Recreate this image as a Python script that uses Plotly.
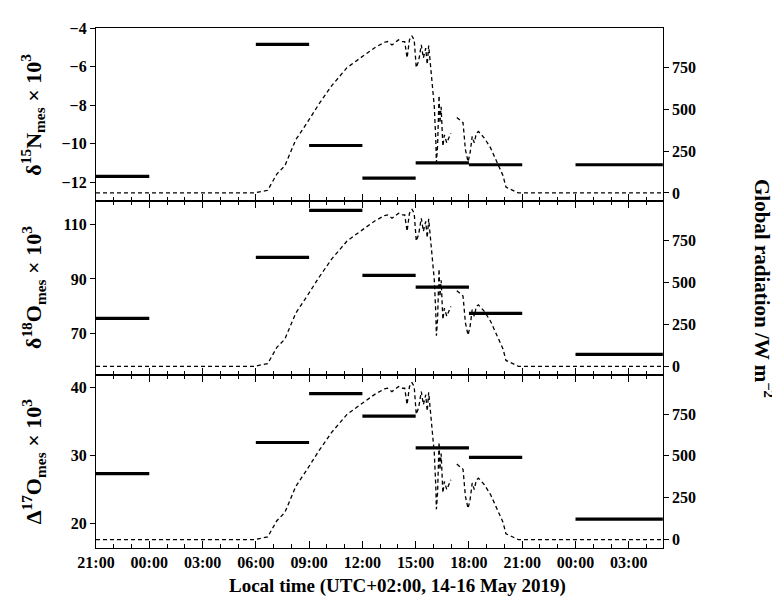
import plotly.graph_objects as go
from plotly.subplots import make_subplots

# ---------------- data ----------------
# measurement intervals (start, end) and values per panel
bar_start = ["2019-05-14 21:00", "2019-05-15 06:00", "2019-05-15 09:00", "2019-05-15 12:00",
             "2019-05-15 15:00", "2019-05-15 18:00", "2019-05-16 00:00"]
bar_end = ["2019-05-15 00:00", "2019-05-15 09:00", "2019-05-15 12:00", "2019-05-15 15:00",
           "2019-05-15 18:00", "2019-05-15 21:00", "2019-05-16 06:00"]
d15N = [-11.7, -4.85, -10.1, -11.8, -11.0, -11.1, -11.1]
d18O = [75.6, 97.9, 115.1, 91.3, 87.0, 77.4, 62.4]
D17O = [27.3, 31.9, 39.1, 35.8, 31.1, 29.7, 20.6]

# global radiation (W m-2); None marks a gap in the record
rad_time = ["2019-05-14 21:00", "2019-05-15 05:55", "2019-05-15 06:40", "2019-05-15 07:11",
            "2019-05-15 07:38", "2019-05-15 07:54", "2019-05-15 08:15", "2019-05-15 08:52",
            "2019-05-15 09:34", "2019-05-15 10:16", "2019-05-15 11:08", "2019-05-15 12:01",
            "2019-05-15 12:43", "2019-05-15 13:15", "2019-05-15 13:25", "2019-05-15 13:40",
            "2019-05-15 14:02", "2019-05-15 14:13", "2019-05-15 14:23", "2019-05-15 14:31",
            "2019-05-15 14:39", "2019-05-15 14:47", "2019-05-15 14:55", "2019-05-15 15:02",
            "2019-05-15 15:10", "2019-05-15 15:19", "2019-05-15 15:26", "2019-05-15 15:34",
            "2019-05-15 15:39", "2019-05-15 15:44", "2019-05-15 15:53", "2019-05-15 16:03",
            "2019-05-15 16:08", "2019-05-15 16:10", "2019-05-15 16:14", "2019-05-15 16:19",
            "2019-05-15 16:22", "2019-05-15 16:26", "2019-05-15 16:32", "2019-05-15 16:37",
            "2019-05-15 16:45", "2019-05-15 16:53", "2019-05-15 16:59", "2019-05-15 17:09",
            "2019-05-15 17:19", "2019-05-15 17:31", "2019-05-15 17:40", "2019-05-15 17:48",
            "2019-05-15 17:57", "2019-05-15 18:04", "2019-05-15 18:11", "2019-05-15 18:18",
            "2019-05-15 18:25", "2019-05-15 18:32", "2019-05-15 18:52", "2019-05-15 19:13",
            "2019-05-15 19:34", "2019-05-15 19:55", "2019-05-15 20:05", "2019-05-15 20:26",
            "2019-05-15 20:47", "2019-05-16 06:00"]
rad_value = [0, 0, 16, 113,
             162, 230, 318, 416,
             533, 640, 748, 816,
             869, 900, 904, 884,
             914, 904, 904, 806,
             914, 939, 914, 748,
             787, 884, 806, 865,
             767, 880, 709, 514,
             318, 182, 279, 582,
             416, 514, 279, 347,
             299, 338, 357, None,
             451, 432, 420, 260,
             186, 240, 338, 299,
             357, 367, 328, 269,
             182, 104, 35, 16,
             0, 0]

panel_values = [d15N, d18O, D17O]
y_titles = ["δ<sup>15</sup>N<sub>mes</sub> × 10<sup>3</sup>",
            "δ<sup>18</sup>O<sub>mes</sub> × 10<sup>3</sup>",
            "Δ<sup>17</sup>O<sub>mes</sub> × 10<sup>3</sup>"]
y_ranges = [[-13, -4], [55, 118.4], [16.35, 41.9]]
y_ticks = [[-12, -10, -8, -6, -4], [70, 90, 110], [20, 30, 40]]
rad_ticks = [0, 250, 500, 750]
rad_range = [-50, 985]
x_range = ["2019-05-14 21:00", "2019-05-16 04:55"]
x_title = "Local time (UTC+02:00, 14-16 May 2019)"
rad_title = "Global radiation /W m<sup>−2</sup>"

# ---------------- figure ----------------
FONT = "Liberation Serif"
W, H = 780, 598
ML, MR, MT, MB = 88, 89, 18, 58
PW, PH = W - ML - MR, H - MT - MB

fig = make_subplots(rows=3, cols=1, shared_xaxes=True, vertical_spacing=0,
                    specs=[[{"secondary_y": True}]] * 3)

tfont = dict(family=FONT, size=16, color="black", weight="bold")
for i, vals in enumerate(panel_values):
    r = i + 1
    bx, by = [], []
    for s, e, v in zip(bar_start, bar_end, vals):
        bx += [s, e, None]
        by += [v, v, None]
    fig.add_trace(go.Scatter(x=rad_time, y=rad_value, mode="lines", connectgaps=False,
                             line=dict(color="black", width=1.3, dash="4px,3px"),
                             showlegend=False, hoverinfo="skip"),
                  row=r, col=1, secondary_y=True)
    fig.add_trace(go.Scatter(x=bx, y=by, mode="lines",
                             line=dict(color="black", width=3.2),
                             showlegend=False),
                  row=r, col=1, secondary_y=False)

    fig.update_yaxes(row=r, col=1, secondary_y=False, range=y_ranges[i], tickvals=y_ticks[i],
                     ticks="outside", ticklen=5, tickwidth=1.2, tickcolor="black",
                     showline=True, linecolor="black", linewidth=1.2, showgrid=False,
                     zeroline=False, tickfont=tfont)
    fig.update_yaxes(row=r, col=1, secondary_y=True, range=rad_range, tickvals=rad_ticks,
                     ticks="outside", ticklen=5, tickwidth=1.2, tickcolor="black",
                     showline=True, linecolor="black", linewidth=1.2, showgrid=False,
                     zeroline=False, tickfont=tfont)
    fig.update_xaxes(row=r, col=1, type="date", range=x_range,
                     tick0="2019-05-14 21:00", dtick=3 * 3600 * 1000, tickformat="%H:%M",
                     ticks="inside", ticklen=7, tickwidth=1.2, tickcolor="black",
                     minor=dict(dtick=3600 * 1000, ticks="inside", ticklen=4, tickcolor="black",
                                tickwidth=1, showgrid=False),
                     showline=True, linecolor="black", linewidth=1.2,
                     mirror=(True if r == 1 else "ticks"), showgrid=False, zeroline=False,
                     showticklabels=(r == 3), tickfont=tfont)

    # left axis title of this panel (same x for all panels)
    yc = 1 - (i + 0.5) / 3
    fig.add_annotation(xref="paper", yref="paper", x=(25 - ML) / PW, y=yc, textangle=-90,
                       text=y_titles[i], showarrow=False, xanchor="center", yanchor="middle",
                       font=dict(family=FONT, size=22, color="black", weight="bold"))

fig.add_annotation(xref="paper", yref="paper", x=0.5, y=-(578 - (H - MB)) / PH,
                   text=x_title, showarrow=False, xanchor="center", yanchor="middle",
                   font=dict(family=FONT, size=19, color="black", weight="bold"))

fig.add_annotation(xref="paper", yref="paper", x=(756 - ML) / PW, y=0.5, textangle=90,
                   text=rad_title, showarrow=False, xanchor="center", yanchor="middle",
                   font=dict(family=FONT, size=21, color="black", weight="bold"))

fig.update_layout(width=W, height=H, margin=dict(l=ML, r=MR, t=MT, b=MB),
                  plot_bgcolor="white", paper_bgcolor="white",
                  font=dict(family=FONT, size=16, color="black", weight="bold"))

fig.write_html("out.html")
